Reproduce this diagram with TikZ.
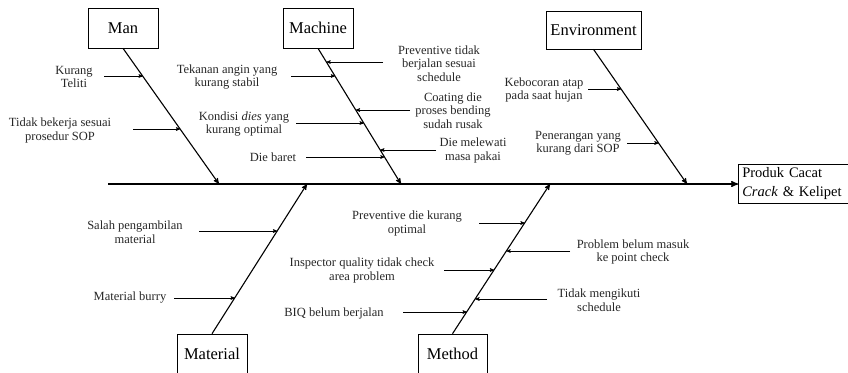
\documentclass[tikz,border=0pt]{standalone}
\usepackage{fontspec}
\setmainfont{Liberation Serif}
\usetikzlibrary{arrows}
\tikzset{
  %Define standard arrow tip
  >=stealth',
  %Define style for category boxes
  kotak/.style={
    rectangle,
    draw=black, semithick,
    minimum width=70pt,
    minimum height=40pt,
    inner sep=2pt,
    font=\fontsize{16.5}{19}\selectfont},
  %Define style for cause texts
  sebab/.style={
    align=center,
    inner sep=0pt,
    text=black!85,
    font=\fontsize{12.5}{13.5}\selectfont},
  % Define arrow styles
  pil/.style={
    ->,
    semithick},
  tulang/.style={
    ->,
    line width=1.1pt}
}

\begin{document}
\begin{tikzpicture}[x=1pt,y=-1pt]
  \path[use as bounding box, clip] (0,0) rectangle (848,372);
  % category boxes
  \node[kotak] (man) at (123,28) {Man};
  \node[kotak] (machine) at (318,28) {Machine};
  \node[kotak, minimum width=95pt, minimum height=38pt] (env) at (593.5,30) {Environment};
  \node[kotak] (material) at (212,354) {Material};
  \node[kotak, minimum width=69pt] (method) at (452.5,354) {Method};
  \node[kotak, anchor=west, text width=130pt, align=left, inner xsep=4pt,
        minimum height=39pt, font=\fontsize{14.5}{19}\selectfont] (akibat) at (738,184)
        {Produk Cacat\\\textit{Crack} \& Kelipet};
  % spine and bones
  \coordinate (ekor) at (108,184);
  \draw[->, line width=1.4pt] (ekor) -- (akibat.west);
  \coordinate (manend) at (219,184);
  \coordinate (machineend) at (401,184);
  \coordinate (envend) at (687,184);
  \coordinate (materialend) at (307,184);
  \coordinate (methodend) at (550,184);
  \draw[tulang] (man.south) -- (manend);
  \draw[tulang] (machine.south) -- (machineend);
  \draw[tulang] (env.south) -- (envend);
  \draw[tulang] (material.north) -- (materialend);
  \draw[tulang] (method.north) -- (methodend);

  % Man
  \node[sebab] (teliti) at (74,77) {Kurang\\Teliti};
  \node[sebab] (sop) at (60,130.5) {Tidak bekerja sesuai\\prosedur SOP};
  \coordinate (teliti-a) at (104,76);  \coordinate (teliti-b) at (142.8,76);
  \coordinate (sop-a) at (133,129);    \coordinate (sop-b) at (180.2,129);
  \draw[pil] (teliti-a) -- (teliti-b);
  \draw[pil] (sop-a) -- (sop-b);

  % Machine
  \node[sebab] (angin) at (227,77) {Tekanan angin yang\\kurang stabil};
  \node[sebab] (dies) at (244,124) {Kondisi \textit{dies} yang\\kurang optimal};
  \node[sebab] (baret) at (273,157) {Die baret};
  \node[sebab] (jadwal) at (439,63.5) {Preventive tidak\\berjalan sesuai\\schedule};
  \node[sebab] (coating) at (453,110.5) {Coating die\\proses bending\\sudah rusak};
  \node[sebab] (pakai) at (473,150.5) {Die melewati\\masa pakai};
  \coordinate (angin-a) at (291,76);   \coordinate (angin-b) at (335,76);
  \coordinate (dies-a) at (296,123);   \coordinate (dies-b) at (363.8,123);
  \coordinate (baret-a) at (306,157);  \coordinate (baret-b) at (384.5,157);
  \coordinate (jadwal-a) at (383,62);  \coordinate (jadwal-b) at (326.5,62);
  \coordinate (coating-a) at (410,110); \coordinate (coating-b) at (355.8,110);
  \coordinate (pakai-a) at (436,150);  \coordinate (pakai-b) at (380.2,150);
  \draw[pil] (angin-a) -- (angin-b);
  \draw[pil] (dies-a) -- (dies-b);
  \draw[pil] (baret-a) -- (baret-b);
  \draw[pil] (jadwal-a) -- (jadwal-b);
  \draw[pil] (coating-a) -- (coating-b);
  \draw[pil] (pakai-a) -- (pakai-b);

  % Environment
  \node[sebab] (bocor) at (544,90) {Kebocoran atap\\pada saat hujan};
  \node[sebab] (terang) at (578,143.5) {Penerangan yang\\kurang dari SOP};
  \coordinate (bocor-a) at (588,89);   \coordinate (bocor-b) at (621.2,89);
  \coordinate (terang-a) at (627,143); \coordinate (terang-b) at (658.6,143);
  \draw[pil] (bocor-a) -- (bocor-b);
  \draw[pil] (terang-a) -- (terang-b);

  % Material
  \node[sebab] (ambil) at (135,232) {Salah pengambilan\\material};
  \node[sebab] (burry) at (130,298) {Material burry};
  \coordinate (ambil-a) at (199,231);  \coordinate (ambil-b) at (277.2,231);
  \coordinate (burry-a) at (174,298);  \coordinate (burry-b) at (234.8,298);
  \draw[pil] (ambil-a) -- (ambil-b);
  \draw[pil] (burry-a) -- (burry-b);

  % Method
  \node[sebab] (prevdie) at (407,223.5) {Preventive die kurang\\optimal};
  \node[sebab] (inspektor) at (362,270.5) {Inspector quality tidak check\\area problem};
  \node[sebab] (biq) at (334,313) {BIQ belum berjalan};
  \node[sebab] (masuk) at (633,252) {Problem belum masuk\\ke point check};
  \node[sebab] (ikut) at (599,300) {Tidak mengikuti\\schedule};
  \coordinate (prevdie-a) at (479,223);   \coordinate (prevdie-b) at (524.7,223);
  \coordinate (inspektor-a) at (444,270); \coordinate (inspektor-b) at (494.1,270);
  \coordinate (biq-a) at (403,312);       \coordinate (biq-b) at (466.8,312);
  \coordinate (masuk-a) at (570,251);     \coordinate (masuk-b) at (506.5,251);
  \coordinate (ikut-a) at (547,299);      \coordinate (ikut-b) at (475.3,299);
  \draw[pil] (prevdie-a) -- (prevdie-b);
  \draw[pil] (inspektor-a) -- (inspektor-b);
  \draw[pil] (biq-a) -- (biq-b);
  \draw[pil] (masuk-a) -- (masuk-b);
  \draw[pil] (ikut-a) -- (ikut-b);
\end{tikzpicture}
\end{document}
